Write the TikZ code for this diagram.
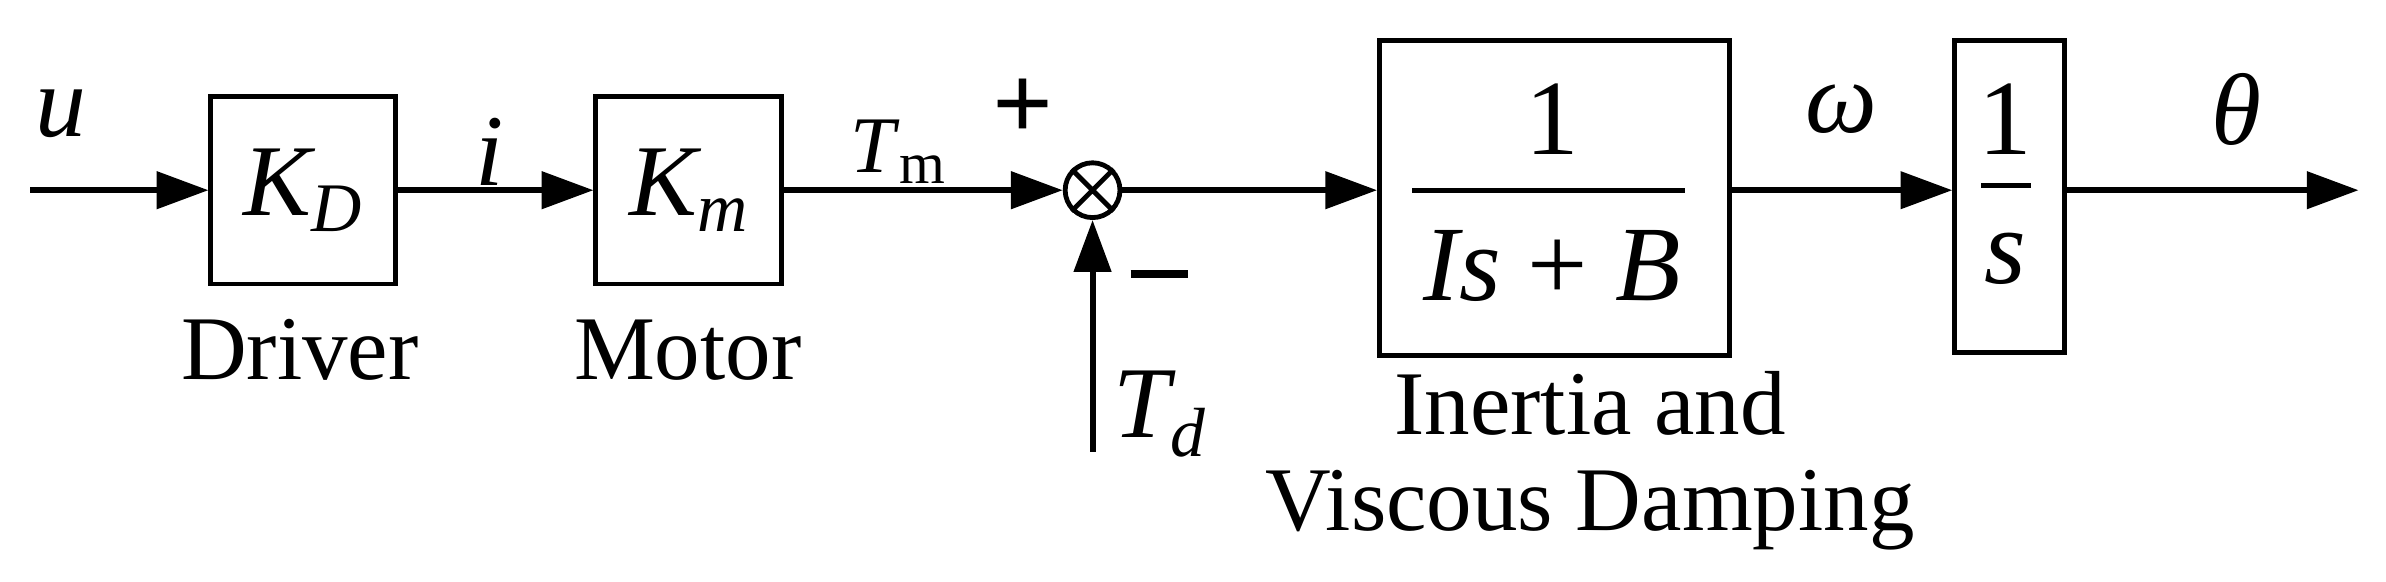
\documentclass[tikz,border=0pt]{standalone}
\usepackage{fontspec}
\setmainfont{Liberation Serif}[ItalicFont={Liberation Serif Italic},BoldFont={Liberation Serif Bold}]
\usetikzlibrary{arrows.meta}
\begin{document}
\begin{tikzpicture}[x=0.01cm,y=-0.01cm,
  line width=1.1pt,
  arr/.style={-{Triangle[length=0.34cm,width=0.24cm]}},
  blk/.style={draw,line width=0.9pt,inner sep=0,anchor=north west},
  txt/.style={font=\fontsize{17}{19}\selectfont,inner sep=0},
  it/.style={txt,font=\fontsize{19}{21}\selectfont\itshape}]
\useasboundingbox (0,0) rectangle (1568,382);
% boxes
\node[blk,minimum width=1.21cm,minimum height=1.23cm] (kd) at (137,62) {};
\node[blk,minimum width=1.22cm,minimum height=1.23cm] (km) at (390,62) {};
\node[blk,minimum width=2.30cm,minimum height=2.07cm] (g) at (905,25) {};
\node[blk,minimum width=0.72cm,minimum height=2.05cm] (s) at (1283,25) {};
\node[draw,circle,line width=0.9pt,minimum size=0.36cm,inner sep=0] (sum) at (718,125) {};
\draw[line width=0.9pt] (sum.north west)--(sum.south east) (sum.north east)--(sum.south west);
% contents
\node[it] at (kd.center) {K\raisebox{-0.35ex}{\fontsize{13}{14}\selectfont D}};
\node[it] at (km.center) {K\raisebox{-0.35ex}{\fontsize{13}{14}\selectfont m}};
\node[txt,font=\fontsize{20}{22}\selectfont] (n1) at (1020,78) {1};
\draw[line width=0.9pt] (928,125)--(1107,125);
\node[txt,font=\fontsize{20}{22}\selectfont] (d1) at (1020,175) {\textit{Is} + \textit{B}};
\node[txt,font=\fontsize{20}{22}\selectfont] (n2) at (1318,78) {1};
\draw[line width=0.9pt] (1302,122)--(1335,122);
\node[it,font=\fontsize{20}{22}\selectfont\itshape] (d2) at (1318,170) {s};
% labels
\node[it] (lu) at (40,75) {u};
\node[it] (li) at (322,100) {i};
\node[it,font=\fontsize{15}{17}\selectfont] (ltm) at (590,100) {\textit{T}\raisebox{-0.3ex}{\upshape\fontsize{11}{12}\selectfont m}};
\node[txt,font=\fontsize{20}{22}\selectfont\bfseries] (lp) at (672,72) {+};
\node[txt,font=\fontsize{20}{22}\selectfont\bfseries] (lm) at (762,180) {\rule{0.38cm}{1.4pt}};
\node[it] (ltd) at (762,272) {T\raisebox{-0.4ex}{\fontsize{13}{14}\selectfont d}};
\node[it] (lw) at (1210,72) {ω};
\node[it] (lt) at (1470,72) {θ};
\node[txt] (ldr) at (197,230) {Driver};
\node[txt] (lmo) at (452,230) {Motor};
\node[txt] (lin) at (1045,265) {Inertia and};
\node[txt] (lvd) at (1045,335) {Viscous Damping};
% connectors
\coordinate (in) at (20,125);
\coordinate (out) at (1550,125);
\coordinate (td) at (718,297);
\draw[arr] (in) -- (kd.west|-in);
\draw[arr] (kd.east|-in) -- (km.west|-in);
\draw[arr] (km.east|-in) -- (sum.west);
\draw[arr] (td) -- (sum.south);
\draw[arr] (sum.east) -- (g.west|-in);
\draw[arr] (g.east|-in) -- (s.west|-in);
\draw[arr] (s.east|-in) -- (out);
\end{tikzpicture}
\end{document}
